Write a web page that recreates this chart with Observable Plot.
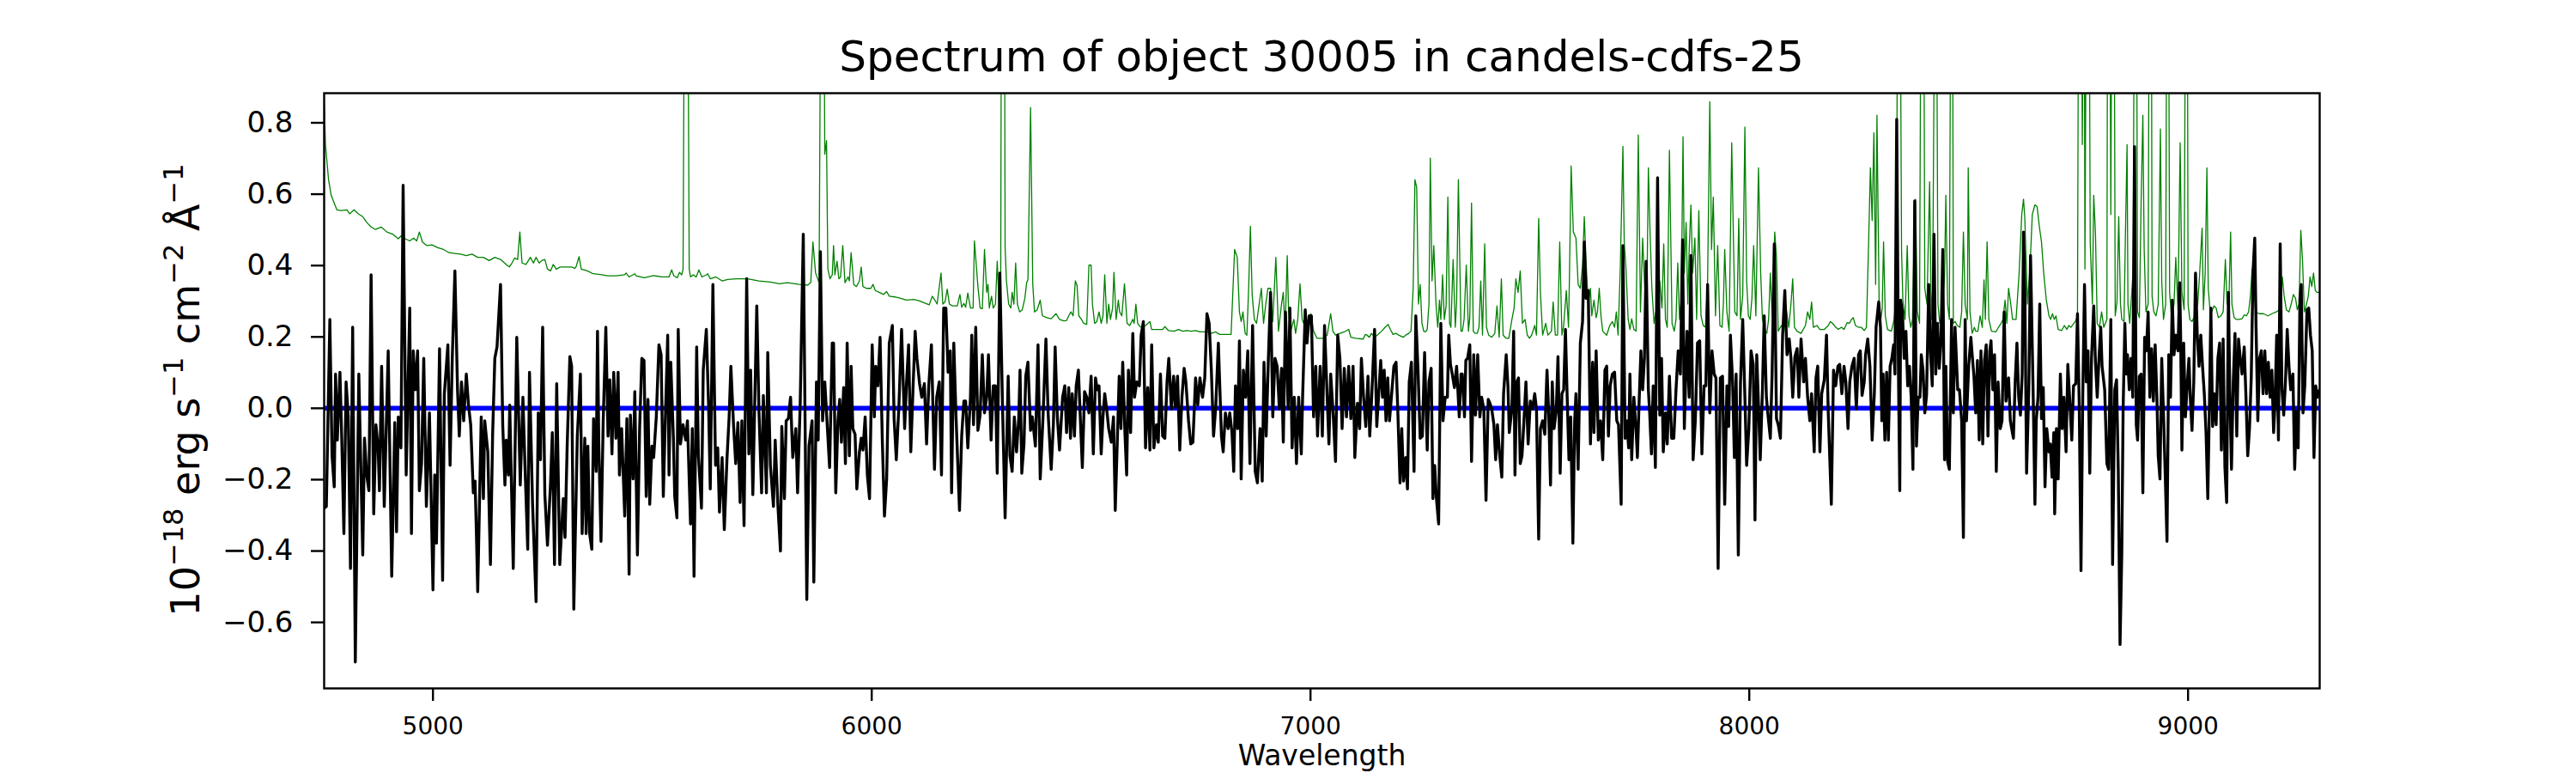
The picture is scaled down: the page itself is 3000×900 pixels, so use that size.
<!DOCTYPE html>
<html>
<head>
<meta charset="utf-8">
<script src="https://cdn.jsdelivr.net/npm/d3@7"></script>
<script src="https://cdn.jsdelivr.net/npm/@observablehq/plot@0.6"></script>
<style>
  html, body { margin: 0; padding: 0; background: #fff; }
  #title {
    font-family: "DejaVu Sans", sans-serif; font-size: 50px; line-height: 58px;
    height: 100px; box-sizing: border-box; padding-top: 37px;
    margin-left: 377px; width: 2324px; text-align: center; color: #000; white-space: nowrap;
  }
</style>
</head>
<body>
<div id="title">Spectrum of object 30005 in candels-cdfs-25</div>
<div id="chart"></div>
<script>
// ---- data (wavelength in Å, flux in 1e-18 erg/s/cm2/Å) ----
const xDomain = [4752, 9300];
const yDomain = [-0.785, 0.883];
const xTicks = [5000, 6000, 7000, 8000, 9000];
const yTicks = [-0.6, -0.4, -0.2, 0.0, 0.2, 0.4, 0.6, 0.8];
const zeroLevel = [0];

// object spectrum (black)
const spectrum = [
[4752,-0.280],[4757,-0.275],[4765,0.249],[4770,-0.133],[4775,-0.220],[4778,0.096],[4782,-0.089],[4788,0.101],[4792,-0.078],[4797,-0.351],
[4802,0.074],[4807,-0.024],[4812,-0.449],[4817,0.227],[4823,-0.711],[4831,0.096],[4840,-0.411],[4844,-0.084],[4849,-0.187],[4854,-0.231],
[4859,0.374],[4865,-0.296],[4870,-0.046],[4875,-0.111],[4878,-0.231],[4883,0.118],[4889,-0.275],[4898,0.161],[4906,-0.471],[4913,-0.040],
[4917,-0.346],[4921,-0.024],[4927,-0.111],[4932,0.625],[4939,-0.187],[4947,0.281],[4951,-0.351],[4955,0.161],[4960,0.052],[4965,0.161],
[4969,-0.231],[4974,-0.155],[4979,0.140],[4985,-0.275],[4992,-0.013],[5000,-0.509],[5004,-0.187],[5008,-0.378],[5015,0.167],[5022,-0.482],
[5026,0.041],[5034,0.178],[5039,-0.160],[5044,0.140],[5050,0.385],[5056,0.052],[5060,-0.078],[5065,0.074],[5070,-0.035],[5076,0.096],
[5081,0.009],[5086,-0.046],[5092,-0.237],[5096,-0.204],[5099,-0.351],[5102,-0.514],[5110,-0.024],[5115,-0.253],[5118,-0.035],[5125,-0.122],
[5131,-0.438],[5136,-0.073],[5141,0.140],[5146,0.172],[5154,0.347],[5159,-0.046],[5164,-0.215],[5167,-0.089],[5172,-0.187],[5175,0.009],
[5183,-0.449],[5191,0.199],[5199,-0.215],[5205,0.031],[5209,-0.133],[5216,-0.395],[5220,0.101],[5227,-0.269],[5235,-0.542],[5240,-0.013],
[5245,-0.144],[5250,0.227],[5255,-0.242],[5261,-0.384],[5268,-0.209],[5272,-0.068],[5277,-0.438],[5282,0.069],[5289,-0.438],[5297,-0.253],
[5301,-0.362],[5306,-0.100],[5312,0.145],[5316,0.118],[5321,-0.563],
[5329,-0.078],[5336,0.096],[5340,-0.351],[5346,-0.084],[5349,-0.351],[5353,-0.106],[5357,-0.351],[5362,-0.395],[5366,-0.029],[5372,-0.177],
[5375,0.216],[5378,-0.100],[5383,-0.373],[5388,-0.035],[5394,0.227],[5399,-0.078],[5403,0.080],[5408,-0.128],[5412,0.101],[5417,-0.084],
[5422,0.101],[5425,-0.187],[5430,-0.057],[5437,-0.302],[5442,-0.029],[5447,-0.465],[5450,-0.019],[5456,-0.198],[5460,0.047],[5466,-0.411],
[5471,-0.057],[5476,0.140],[5481,0.134],[5486,-0.247],[5490,0.025],[5494,-0.269],[5499,-0.106],[5503,-0.138],[5509,-0.024],[5515,0.178],
[5520,0.150],[5525,-0.247],[5529,-0.057],[5535,0.205],[5538,-0.187],[5542,0.129],[5548,-0.084],[5551,-0.247],[5556,-0.307],[5559,0.221],
[5564,-0.100],[5570,-0.046],[5576,-0.089],[5580,-0.035],[5587,-0.324],[5591,-0.057],[5595,-0.471],[5601,0.172],[5605,-0.133],[5612,-0.280],
[5616,0.107],[5623,0.221],[5628,0.014],[5632,-0.226],[5638,0.347],[5644,-0.160],[5649,-0.111],[5653,-0.291],[5659,-0.138],[5664,-0.340],
[5670,-0.144],[5675,-0.024],[5679,0.118],[5685,-0.046],[5690,-0.155],[5695,-0.040],[5700,-0.264],[5704,-0.035],[5709,-0.329],[5715,0.363],
[5720,-0.128],[5724,0.107],[5729,-0.242],[5738,0.287],[5743,-0.008],[5749,-0.237],[5753,0.036],[5760,-0.237],[5763,0.156],[5769,-0.160],
[5776,-0.275],[5780,-0.089],[5786,-0.269],[5792,-0.400],[5795,-0.051],[5801,-0.253],[5805,-0.035],[5810,-0.029],[5815,0.031],[5820,-0.138],
[5827,-0.057],[5831,-0.237],[5837,0.014],[5844,0.488],[5852,-0.536],[5857,-0.106],[5864,-0.035],[5868,-0.487],[5874,0.074],[5878,-0.089],
[5883,0.439],[5888,-0.035],[5893,0.074],[5898,-0.035],[5904,-0.166],[5910,0.183],
[5913,0.183],[5918,-0.237],[5923,-0.035],[5927,0.025],[5931,-0.095],[5936,0.058],[5940,-0.155],[5944,0.183],[5949,-0.133],[5953,0.118],
[5957,-0.057],[5962,-0.073],[5966,-0.226],[5972,-0.122],[5976,-0.084],[5980,-0.117],[5985,-0.024],[5990,-0.187],[5995,-0.253],[6001,0.178],
[6006,-0.024],[6009,0.118],[6014,0.063],[6019,0.199],[6024,-0.084],[6029,-0.302],[6034,-0.198],[6040,0.183],[6047,0.232],[6051,-0.029],
[6056,-0.144],[6062,0.009],[6068,0.221],[6075,-0.057],[6079,0.063],[6084,0.178],[6089,-0.122],[6094,0.052],[6099,0.216],[6103,0.140],
[6109,0.069],[6114,0.031],[6120,0.069],[6125,-0.100],[6130,0.063],[6136,0.178],[6143,-0.171],[6148,0.031],[6154,0.074],[6159,-0.187],
[6164,0.281],[6169,0.281],[6174,0.101],[6179,0.161],[6182,-0.237],[6187,0.183],[6192,-0.019],[6200,-0.286],[6205,-0.078],[6210,0.020],
[6214,0.020],[6219,-0.111],[6225,0.031],[6228,0.205],[6232,-0.046],[6237,0.227],[6242,-0.062],[6247,-0.019],[6252,0.150],[6257,-0.013],
[6262,0.031],[6266,0.150],[6272,-0.089],[6277,0.063],[6282,0.063],[6286,-0.182],[6292,0.379],[6298,0.009],[6304,-0.307],[6311,0.090],
[6315,-0.133],[6320,-0.177],[6325,-0.024],[6330,-0.122],[6335,-0.029],[6338,0.107],[6342,-0.182],[6347,-0.100],[6351,0.090],[6356,0.129],
[6362,-0.062],[6366,-0.024],[6373,-0.106],[6379,0.178],[6384,-0.198],[6390,-0.035],[6397,0.194],[6402,-0.013],[6409,-0.171],[6414,-0.046],
[6418,0.172],[6423,-0.024],[6428,-0.117],[6435,0.031],[6440,0.063],[6444,-0.068],[6449,0.058],[6453,-0.084],[6457,0.041],[6462,-0.078],
[6466,0.063],[6471,0.107],[6476,-0.046],[6480,-0.166],[6485,0.047],[6490,0.031],[6495,-0.013],
[6500,0.090],[6505,-0.128],[6510,0.085],[6514,0.052],[6518,0.063],[6523,-0.128],[6527,-0.024],[6531,0.041],[6536,-0.008],[6540,-0.057],
[6546,-0.095],[6551,-0.024],[6555,-0.286],[6560,-0.078],[6564,0.090],[6568,-0.057],[6572,0.129],[6577,-0.068],[6581,-0.187],[6585,0.107],
[6590,-0.068],[6595,0.210],[6599,0.031],[6604,0.074],[6610,0.063],[6614,0.205],[6619,0.243],[6624,-0.111],[6629,0.058],[6634,-0.117],
[6638,0.178],[6643,-0.111],[6649,-0.046],[6653,-0.095],[6658,0.096],[6663,-0.078],[6668,-0.084],[6673,0.074],[6677,0.140],[6683,-0.002],
[6688,0.090],[6692,0.003],[6697,0.090],[6702,-0.117],[6707,0.031],[6712,0.112],[6716,0.074],[6722,-0.035],[6727,-0.100],[6732,-0.095],
[6738,0.085],[6743,0.009],[6748,0.085],[6754,0.031],[6759,0.085],[6764,0.265],[6769,0.238],[6774,0.107],[6779,-0.078],[6784,0.003],
[6790,0.183],[6797,-0.078],[6801,-0.122],[6806,-0.013],[6812,-0.057],[6816,-0.013],[6821,-0.068],[6825,-0.177],[6829,0.063],[6834,-0.057],
[6838,0.189],[6842,-0.198],[6847,0.107],[6852,0.031],[6857,0.161],[6862,-0.155],[6868,0.232],[6874,-0.177],[6879,-0.209],[6885,-0.057],
[6890,-0.204],[6894,0.129],[6899,-0.078],[6904,0.140],[6909,0.325],[6914,-0.024],[6919,0.140],[6924,0.118],[6929,-0.002],[6934,0.112],
[6938,-0.095],[6943,0.270],[6949,-0.002],[6953,0.281],[6958,-0.111],[6963,0.031],[6968,-0.155],[6973,0.031],[6979,-0.128],[6982,0.031],
[6988,0.276],[6992,0.183],[6997,0.259],[7002,0.259],[7007,-0.024],[7012,0.118],[7016,-0.078],[7022,0.118],[7027,-0.078],[7032,0.232],
[7038,0.031],[7042,-0.100],[7046,0.096],[7052,-0.024],[7057,-0.149],[7062,0.205],[7067,0.140],[7072,-0.057],[7077,0.112],[7082,-0.024],
[7087,0.118],[7092,-0.029],[7097,0.118],[7101,-0.138],[7107,0.014],[7112,-0.057],[7116,0.140],[7121,0.031],[7126,-0.051],[7131,0.090],
[7135,-0.078],[7139,0.020],[7146,0.221],[7151,-0.051],[7155,0.031],[7160,0.134],[7164,0.031],[7168,0.107],[7172,-0.035],[7176,0.085],
[7180,-0.035],[7185,0.041],[7190,0.118],[7195,0.129],[7199,-0.008],[7204,-0.209],[7208,-0.057],[7212,-0.204],[7217,-0.138],[7221,-0.226],
[7225,0.074],[7230,0.129],[7236,-0.177],[7240,0.259],[7245,0.107],[7250,-0.084],[7255,-0.078],[7260,0.156],[7266,-0.117],[7270,0.074],
[7275,0.112],[7279,-0.253],[7283,-0.160],[7287,-0.253],[7292,-0.324],[7297,0.238],[7302,-0.035],[7307,0.031],[7312,0.031],[7315,0.205],
[7319,0.123],[7323,0.096],[7328,0.058],[7333,0.118],[7339,-0.024],[7343,0.096],[7346,0.096],[7351,-0.024],[7354,0.134],[7358,0.140],
[7363,0.178],[7367,-0.149],[7372,0.150],[7376,-0.019],[7381,0.150],[7386,-0.024],[7390,0.031],[7395,-0.002],[7400,-0.258],[7405,0.025],
[7409,0.014],[7413,-0.002],[7418,-0.046],[7422,-0.144],[7426,-0.046],[7431,-0.128],[7436,-0.193],[7440,0.041],[7446,0.150],[7450,0.063],
[7453,-0.068],[7459,-0.002],[7463,0.216],[7466,-0.187],[7470,0.074],[7474,0.085],[7478,-0.155],[7482,-0.133],[7486,-0.046],[7491,0.074],
[7496,-0.100],[7501,0.020],[7506,-0.002],[7511,0.041],[7515,-0.002],[7520,-0.367],[7524,-0.057],[7529,-0.035],[7534,-0.073],[7539,0.107],
[7543,-0.019],[7547,-0.215],[7551,0.074],[7555,-0.057],[7560,-0.008],[7564,0.145],[7569,-0.182],[7573,0.041],[7577,0.052],[7581,0.221],
[7585,0.031],[7589,-0.144],[7593,-0.024],[7598,-0.378],[7602,-0.035],[7605,0.041],[7610,-0.171],[7615,0.183],[7620,0.243],[7624,0.466],
[7628,0.308],[7633,0.330],[7638,-0.100],[7643,0.129],[7646,-0.068],[7651,0.161],[7656,-0.089],[7661,-0.035],[7666,-0.144],[7671,0.107],
[7675,0.118],[7679,-0.078],[7683,0.063],[7688,0.096],[7693,0.101],[7698,-0.035],[7702,-0.046],[7708,-0.269],[7712,0.456],[7717,-0.084],
[7721,-0.035],[7725,-0.111],[7728,0.096],[7732,-0.144],[7737,0.031],[7742,-0.062],[7745,-0.138],[7749,0.020],[7753,0.161],[7757,0.052],
[7761,0.140],[7765,0.412],[7770,0.052],[7773,-0.013],[7777,-0.128],[7781,0.063],[7786,-0.166],[7791,0.646],[7796,-0.019],[7800,0.140],
[7804,-0.122],[7809,-0.013],[7813,-0.100],[7818,0.090],[7823,-0.084],[7828,-0.084],[7833,0.052],[7838,0.161],[7843,0.096],[7848,0.472],
[7852,-0.057],[7858,0.216],[7863,0.031],[7867,0.428],[7872,-0.144],[7877,-0.035],[7882,0.183],[7887,0.189],[7892,-0.128],[7897,0.063],
[7901,0.063],[7905,0.347],[7910,-0.013],[7915,0.161],[7920,0.096],[7924,0.085],[7929,-0.449],[7934,0.085],[7939,0.090],[7944,-0.269],
[7949,0.063],[7953,-0.051],[7957,0.205],[7962,0.074],[7966,-0.138],[7970,0.096],[7975,-0.411],[7980,0.074],[7985,0.249],[7990,0.031],
[7994,-0.160],[7999,-0.057],[8004,0.161],[8009,0.123],[8013,-0.313],[8017,0.150],[8021,0.009],[8025,-0.144],[8030,0.052],[8034,0.259],
[8039,0.031],[8043,-0.024],[8048,-0.084],[8052,0.096],[8057,0.461],[8062,-0.029],[8066,-0.046],[8071,-0.084],[8076,0.205],[8081,0.330],
[8086,0.150],[8091,0.194],[8095,0.140],[8099,0.031],[8104,0.145],[8109,0.167],[8113,0.031],[8118,0.194],[8124,0.074],[8128,0.140],
[8133,0.031],[8138,-0.035],[8142,0.041],[8148,-0.122],[8152,0.085],[8156,0.118],[8161,-0.122],[8165,0.041],[8171,0.080],[8176,0.205],
[8180,-0.013],[8187,-0.269],[8192,0.107],[8197,0.063],[8202,0.118],[8206,0.123],[8211,0.041],[8216,0.118],[8220,0.074],[8225,-0.057],
[8229,0.074],[8234,0.118],[8239,0.140],[8244,-0.002],[8249,0.150],[8253,0.161],[8257,0.036],
[8262,0.074],[8265,0.150],[8270,0.194],[8275,0.118],[8280,-0.089],[8285,0.041],[8289,0.227],[8295,0.298],[8299,0.227],[8302,-0.035],
[8305,0.096],[8309,-0.089],[8313,0.101],[8317,-0.089],[8321,0.118],[8325,0.140],[8329,0.178],[8332,0.096],[8336,0.810],[8340,0.096],
[8343,-0.231],[8345,0.303],[8349,0.270],[8353,0.140],[8357,0.216],[8361,0.063],[8365,0.118],[8369,0.031],[8373,-0.171],[8377,0.581],
[8381,-0.106],[8385,0.031],[8389,0.031],[8392,0.150],[8396,0.107],[8400,-0.013],[8404,0.036],[8409,0.347],[8413,0.156],[8417,0.063],
[8421,0.488],[8425,0.096],[8429,0.238],[8433,0.112],[8437,0.194],[8441,0.445],[8445,-0.144],[8448,0.118],[8452,-0.149],[8456,-0.171],
[8461,0.249],[8465,-0.013],[8469,0.227],[8475,0.052],[8479,0.052],[8484,-0.035],[8488,-0.362],[8492,0.249],[8495,-0.035],[8500,0.118],
[8505,0.199],[8508,0.150],[8512,0.090],[8516,-0.013],[8520,0.134],[8524,-0.089],[8528,0.161],[8532,-0.100],[8536,0.134],[8540,0.178],
[8544,-0.078],[8548,0.161],[8551,0.189],[8555,0.052],[8559,0.150],[8563,-0.177],[8567,0.074],[8572,-0.057],[8576,-0.035],[8581,0.270],
[8585,0.020],[8591,0.085],[8595,-0.035],[8598,-0.057],[8602,-0.084],[8606,0.074],[8610,0.183],[8614,0.031],[8618,-0.019],[8622,0.096],
[8625,0.494],[8628,0.336],[8632,-0.182],[8637,0.052],[8641,0.428],[8647,0.041],[8651,-0.269],[8654,-0.035],[8658,0.031],[8662,0.292],
[8666,-0.029],[8670,0.058],[8674,-0.220],[8678,-0.057],[8683,-0.122],[8686,-0.100],[8690,-0.193],[8694,-0.068],[8696,-0.296],[8700,-0.057],
[8704,-0.198],[8709,0.096],[8713,-0.057],[8717,0.031],[8722,-0.122],[8726,0.123],[8730,0.031],[8735,-0.089],[8739,0.063],[8744,0.069],
[8748,0.265],[8752,0.009],[8756,-0.455],[8760,0.031],[8764,0.347],[8768,0.074],[8772,0.161],[8776,-0.182],[8780,0.140],[8785,0.287],
[8789,0.129],[8793,0.031],[8797,0.140],[8801,0.227],[8804,0.118],[8810,0.052],[8815,-0.155],[8819,-0.171],[8824,0.249],[8828,-0.438],
[8833,0.052],[8837,0.080],[8841,-0.177],[8845,-0.662],[8849,-0.405],
[8852,-0.002],[8856,0.238],[8859,0.096],[8862,0.150],[8866,0.052],[8870,0.140],[8874,0.031],[8878,0.733],[8882,-0.046],[8885,-0.089],
[8889,0.090],[8893,0.096],[8897,-0.237],[8901,0.199],[8905,0.161],[8909,0.270],[8913,0.031],[8917,0.167],[8921,0.020],[8925,0.178],
[8929,0.031],[8932,-0.133],[8936,-0.198],[8940,0.140],[8944,-0.013],[8948,-0.187],[8952,-0.373],[8956,0.150],[8960,0.031],[8964,0.303],
[8968,0.150],[8972,0.205],[8977,0.161],[8981,0.352],[8983,0.210],[8986,-0.117],[8990,0.183],[8994,-0.024],[8998,0.063],[9002,0.140],
[9005,0.031],[9009,-0.062],[9013,0.074],[9017,0.379],[9021,0.205],[9025,0.118],[9029,0.205],[9033,0.118],[9037,0.041],[9041,-0.068],
[9045,-0.253],[9049,0.031],[9052,0.281],[9056,-0.051],[9060,0.041],[9064,-0.046],[9068,0.140],[9072,0.183],[9076,-0.117],[9080,0.194],
[9084,-0.166],[9088,-0.264],[9092,0.325],[9095,0.058],[9099,-0.171],[9103,0.074],[9107,0.210],[9111,-0.078],[9115,0.194],[9119,0.140],
[9123,0.096],[9128,0.172],[9132,0.031],[9136,-0.133],[9140,-0.057],[9144,0.085],[9148,0.379],[9152,0.477],[9155,0.227],[9159,-0.035],
[9163,0.140],[9167,0.161],[9171,0.041],[9175,0.161],[9179,0.041],[9183,0.129],[9187,0.031],[9191,0.107],[9195,-0.068],[9198,0.009],
[9202,0.205],[9206,-0.089],[9210,0.461],[9214,0.052],[9218,-0.019],[9222,0.074],[9226,0.221],[9230,0.118],[9234,0.052],[9239,0.096],
[9243,-0.171],[9247,-0.008],[9251,-0.111],[9255,0.308],[9258,0.347],[9262,-0.013],[9266,0.063],[9271,0.276],[9275,0.281],[9279,0.205],
[9283,0.161],[9287,-0.138],[9291,0.063],[9295,0.031],[9300,0.052]
];

// noise / sky spectrum (green); 1.5 marks lines that run off the top of the axes
const noise = [
[4752,0.859],[4755,0.739],[4762,0.641],[4768,0.597],[4775,0.575],[4781,0.556],[4791,0.554],[4804,0.556],[4810,0.545],[4820,0.556],
[4830,0.545],[4840,0.537],[4849,0.521],[4859,0.508],[4869,0.501],[4882,0.508],[4895,0.494],[4908,0.488],[4921,0.475],[4927,0.483],
[4937,0.475],[4947,0.469],[4956,0.477],[4963,0.469],[4969,0.494],[4976,0.466],[4986,0.456],[4998,0.458],[5011,0.450],[5024,0.445],
[5037,0.436],[5050,0.434],[5063,0.432],[5076,0.428],[5089,0.432],[5102,0.423],[5115,0.423],[5128,0.414],[5141,0.423],[5154,0.417],
[5167,0.403],[5174,0.396],[5180,0.407],[5186,0.421],[5193,0.417],[5198,0.494],[5203,0.407],[5212,0.403],[5222,0.423],[5229,0.407],
[5235,0.423],[5242,0.407],[5248,0.414],[5255,0.417],[5261,0.390],[5268,0.385],[5274,0.403],[5281,0.390],[5290,0.396],[5303,0.396],
[5316,0.396],[5323,0.392],
[5326,0.396],[5333,0.425],[5338,0.390],[5352,0.385],[5365,0.377],[5385,0.374],[5398,0.371],[5417,0.371],[5437,0.374],[5440,0.379],
[5447,0.368],[5460,0.377],[5463,0.371],[5482,0.366],[5502,0.372],[5522,0.368],[5538,0.368],[5544,0.388],[5549,0.371],[5557,0.366],
[5562,0.381],[5567,0.374],[5570,0.390],[5574,1.5],[5580,1.5],[5584,0.390],[5587,0.368],[5593,0.374],[5600,0.368],[5606,0.388],
[5613,0.368],[5623,0.374],[5626,0.377],[5632,0.363],[5645,0.368],[5659,0.357],[5672,0.361],[5691,0.363],[5717,0.363],[5743,0.357],
[5769,0.354],[5789,0.349],[5808,0.352],[5835,0.347],[5854,0.345],[5861,0.352],[5866,0.466],[5872,0.379],[5880,0.352],[5885,1.5],
[5890,1.5],[5893,0.712],[5897,0.750],[5900,0.390],[5905,0.363],[5910,0.374],
[5913,0.456],[5916,0.374],[5921,0.412],[5925,0.363],[5929,0.368],[5934,0.456],[5939,0.352],[5946,0.368],[5949,0.357],[5953,0.436],
[5959,0.347],[5965,0.341],[5972,0.357],[5976,0.396],[5980,0.341],[5988,0.336],[5998,0.336],[6003,0.347],[6008,0.330],[6017,0.325],
[6027,0.319],[6034,0.327],[6040,0.314],[6053,0.312],[6066,0.308],[6079,0.303],[6096,0.305],[6109,0.301],[6122,0.294],[6131,0.290],
[6138,0.314],[6144,0.303],[6149,0.292],[6158,0.379],[6162,0.292],[6167,0.298],[6172,0.334],[6177,0.292],[6184,0.287],[6190,0.287],
[6195,0.287],[6201,0.319],[6205,0.283],[6210,0.294],[6214,0.283],[6219,0.323],[6225,0.281],[6231,0.281],[6234,0.469],[6239,0.390],
[6242,0.341],[6247,0.281],[6252,0.279],[6257,0.445],[6262,0.325],[6265,0.347],[6268,0.281],[6273,0.314],[6277,0.281],[6282,0.292],
[6286,0.412],[6290,0.292],[6294,0.379],[6296,1.5],[6302,1.5],[6304,0.450],[6307,0.357],[6312,0.292],[6317,0.281],[6320,0.325],
[6324,0.292],[6328,0.407],[6332,0.292],[6337,0.270],[6343,0.276],[6349,0.308],[6353,0.352],[6356,0.360],[6362,0.843],[6367,0.347],
[6371,0.270],[6377,0.276],[6384,0.303],[6389,0.259],[6399,0.254],[6409,0.251],[6415,0.259],[6420,0.265],[6428,0.249],[6438,0.245],
[6444,0.246],[6449,0.259],[6454,0.270],[6459,0.259],[6464,0.357],[6468,0.344],[6472,0.259],[6478,0.249],[6483,0.238],[6490,0.235],
[6495,0.401],
[6500,0.401],[6503,0.292],[6508,0.238],[6513,0.243],[6518,0.270],[6523,0.238],[6527,0.259],[6531,0.374],[6536,0.238],[6540,0.292],
[6544,0.249],[6549,0.281],[6552,0.381],[6557,0.249],[6562,0.303],[6565,0.270],[6570,0.259],[6576,0.349],[6582,0.238],[6588,0.232],
[6595,0.249],[6598,0.238],[6602,0.292],[6606,0.238],[6611,0.229],[6617,0.227],[6624,0.232],[6634,0.243],[6638,0.221],[6650,0.221],
[6663,0.221],[6668,0.229],[6676,0.218],[6689,0.216],[6699,0.221],[6709,0.216],[6718,0.218],[6728,0.216],[6738,0.218],[6748,0.214],
[6758,0.214],[6767,0.214],[6774,0.210],[6784,0.214],[6793,0.207],[6806,0.207],[6819,0.207],[6827,0.445],[6833,0.423],[6838,0.270],
[6842,0.243],[6846,0.270],[6851,0.210],[6855,0.205],[6859,0.336],[6863,0.510],[6867,0.319],[6872,0.249],[6877,0.238],[6883,0.292],
[6888,0.336],[6893,0.238],[6898,0.292],[6903,0.336],[6909,0.336],[6914,0.243],[6921,0.423],[6927,0.216],[6934,0.292],[6938,0.325],
[6942,0.216],[6947,0.428],[6950,0.270],[6955,0.216],[6962,0.249],[6966,0.210],[6971,0.249],[6976,0.349],[6981,0.249],[6988,0.227],
[6994,0.238],[7001,0.265],[7007,0.216],[7015,0.196],[7028,0.196],[7038,0.205],[7046,0.265],[7051,0.216],[7057,0.205],[7067,0.210],
[7077,0.214],
[7087,0.221],[7092,0.199],[7103,0.196],[7120,0.194],[7125,0.207],[7129,0.205],[7134,0.199],[7139,0.210],[7146,0.199],[7152,0.205],
[7162,0.216],[7170,0.227],[7177,0.235],[7182,0.221],[7188,0.207],[7195,0.210],[7201,0.205],[7211,0.199],[7217,0.205],[7224,0.210],
[7229,0.216],[7234,0.336],[7238,0.641],[7242,0.619],[7246,0.292],[7250,0.347],[7254,0.238],[7258,0.216],[7262,0.214],[7266,0.221],
[7270,0.292],[7273,0.701],[7277,0.357],[7281,0.456],[7286,0.292],[7290,0.227],[7294,0.303],[7297,0.249],[7301,0.374],[7305,0.249],
[7309,0.287],[7313,0.592],[7317,0.238],[7320,0.227],[7325,0.417],[7330,0.227],[7333,0.298],[7337,0.641],[7343,0.216],[7346,0.216],
[7350,0.249],[7355,0.401],[7360,0.216],[7363,0.254],[7367,0.575],[7371,0.216],[7375,0.210],[7380,0.210],[7384,0.227],[7388,0.357],
[7392,0.205],[7397,0.461],[7401,0.227],[7406,0.205],[7413,0.199],[7420,0.210],[7425,0.287],[7430,0.199],[7435,0.363],[7439,0.205],
[7446,0.196],[7452,0.196],[7459,0.249],[7464,0.281],[7468,0.363],[7473,0.325],[7478,0.385],[7483,0.238],[7489,0.249],[7494,0.205],
[7499,0.196],[7504,0.205],[7511,0.232],[7515,0.205],[7520,0.532],[7524,0.325],[7529,0.205],[7536,0.238],[7541,0.205],[7549,0.216],
[7553,0.298],[7558,0.205],[7563,0.205],[7568,0.466],[7573,0.205],[7577,0.232],[7583,0.330],[7588,0.227],[7590,0.357],[7594,0.679],
[7599,0.494],[7605,0.477],[7610,0.347],[7615,0.336],[7620,0.401],[7624,0.537],[7628,0.412],[7633,0.292],[7638,0.336],[7641,0.259],
[7646,0.303],[7651,0.254],[7654,0.270],[7658,0.336],[7662,0.259],[7666,0.216],
[7675,0.205],[7682,0.232],[7688,0.243],[7693,0.227],[7697,0.270],[7701,0.205],[7706,0.390],[7712,0.734],[7715,0.466],[7719,0.390],
[7724,0.249],[7728,0.221],[7732,0.251],[7737,0.221],[7742,0.216],[7747,0.766],[7752,0.270],[7757,0.477],[7761,0.357],[7766,0.249],
[7770,0.674],[7774,0.488],[7778,0.336],[7783,0.238],[7787,0.270],[7792,0.227],[7796,0.357],[7801,0.281],[7805,0.461],[7809,0.249],
[7813,0.227],[7818,0.723],[7824,0.238],[7829,0.216],[7833,0.249],[7837,0.407],[7841,0.249],[7845,0.308],[7849,0.761],[7852,0.379],
[7856,0.521],[7860,0.292],[7863,0.445],[7867,0.570],[7871,0.379],[7876,0.477],[7880,0.249],[7885,0.554],[7890,0.259],[7895,0.232],
[7900,0.227],[7905,0.357],[7910,0.859],[7914,0.445],[7918,0.592],[7923,0.259],[7928,0.456],[7933,0.232],[7938,0.227],[7941,0.292],
[7944,0.445],[7949,0.270],[7954,0.216],[7960,0.744],[7964,0.466],[7967,0.270],[7972,0.259],[7976,0.532],[7980,0.249],[7985,0.314],
[7990,0.788],[7994,0.357],[7998,0.259],[8002,0.249],[8006,0.308],[8010,0.456],[8015,0.259],[8021,0.674],[8026,0.379],[8030,0.249],
[8035,0.221],[8040,0.210],[8044,0.249],[8048,0.379],[8052,0.259],[8058,0.494],[8062,0.423],[8066,0.216],[8073,0.232],[8079,0.216],
[8084,0.281],[8090,0.227],[8095,0.292],[8099,0.363],[8103,0.227],[8109,0.216],[8118,0.210],[8128,0.232],[8133,0.270],[8138,0.249],
[8142,0.298],[8146,0.227],[8154,0.232],[8161,0.221],[8171,0.221],[8180,0.232],[8185,0.243],[8190,0.238],[8197,0.227],[8203,0.221],
[8210,0.227],[8216,0.221],[8223,0.240],[8228,0.238],[8233,0.249],[8237,0.254],[8242,0.232],[8249,0.227],[8255,0.227],
[8262,0.218],[8267,0.227],[8272,0.466],[8276,0.674],[8280,0.526],[8284,0.772],[8288,0.347],[8291,0.821],[8296,0.292],[8300,0.249],
[8303,0.281],[8306,0.466],[8310,0.259],[8315,0.221],[8324,0.216],[8330,0.249],[8335,0.314],[8339,1.5],[8343,1.5],[8347,0.445],
[8350,0.303],[8355,0.249],[8360,0.456],[8364,0.259],[8368,0.227],[8372,0.249],[8376,0.488],[8379,0.586],[8383,0.270],[8388,0.238],
[8392,1.5],[8397,1.5],[8400,0.336],[8405,0.292],[8411,0.635],[8415,0.249],[8418,0.336],[8424,1.5],[8426,1.5],[8430,0.292],
[8434,0.238],[8439,0.259],[8445,0.368],[8448,0.597],[8452,0.292],[8456,0.249],[8460,1.5],[8463,1.5],[8465,0.238],[8469,0.243],
[8474,0.232],[8480,0.227],[8484,0.270],[8488,0.494],[8492,0.292],[8497,0.249],[8499,0.674],[8503,0.270],[8508,0.210],[8513,0.227],
[8516,0.216],[8521,0.216],[8526,0.259],[8531,0.227],[8535,0.360],[8538,0.249],[8542,0.466],[8546,0.249],[8552,0.216],[8562,0.214],
[8568,0.227],[8574,0.238],[8578,0.249],[8583,0.303],[8587,0.238],[8591,0.336],[8596,0.292],[8600,0.249],[8608,0.249],[8615,0.379],
[8621,0.543],[8625,0.586],[8628,0.532],[8634,0.292],[8640,0.401],[8645,0.543],[8651,0.570],[8656,0.565],[8661,0.510],[8666,0.466],
[8671,0.379],[8677,0.303],[8683,0.259],[8687,0.249],[8691,0.265],[8695,0.249],[8699,0.259],[8704,0.221],[8712,0.218],[8718,0.232],
[8724,0.221],[8728,0.232],[8733,0.227],[8738,0.235],[8743,0.243],[8748,0.259],[8751,1.5],[8756,1.5],[8759,0.739],[8763,1.5],
[8765,0.390],[8769,1.5],[8774,1.5],[8777,0.466],[8782,0.292],[8785,0.597],[8789,0.488],[8793,0.238],[8798,0.227],[8803,0.270],
[8808,0.227],[8815,0.249],[8817,1.5],[8821,1.5],[8824,0.543],[8827,1.5],[8831,1.5],[8834,0.259],[8838,0.298],[8842,0.537],
[8846,0.292],
[8849,0.249],[8854,0.243],[8857,0.466],[8861,0.739],[8863,0.292],[8867,0.238],[8870,0.292],[8875,0.390],[8878,1.5],[8882,1.5],
[8885,0.270],[8889,0.254],[8893,0.575],[8897,0.821],[8900,0.445],[8904,0.270],[8909,0.292],[8912,1.5],[8916,1.5],[8918,0.314],
[8922,0.270],[8927,0.259],[8932,0.292],[8937,0.783],[8940,0.357],[8944,0.249],[8949,0.292],[8952,1.5],[8955,1.5],[8958,0.325],
[8962,0.259],[8968,0.292],[8972,0.423],[8977,0.276],[8982,0.744],[8986,0.325],[8991,0.276],[8995,1.5],[8998,1.5],[9000,0.292],
[9004,0.249],[9009,0.243],[9015,0.259],[9022,0.292],[9026,0.368],[9032,0.505],[9035,0.276],[9039,0.379],[9043,0.674],[9046,0.336],
[9050,0.276],[9054,0.270],[9059,0.287],[9064,0.281],[9069,0.254],[9075,0.259],[9080,0.270],[9085,0.417],[9089,0.292],[9093,0.292],
[9097,0.494],[9100,0.292],[9105,0.254],[9110,0.249],[9116,0.249],[9123,0.251],[9128,0.262],[9133,0.259],[9138,0.270],[9142,0.314],
[9146,0.390],[9150,0.336],[9154,0.270],[9162,0.265],[9172,0.265],[9182,0.259],[9191,0.265],[9201,0.270],[9208,0.276],[9212,0.314],
[9215,0.368],[9219,0.314],[9224,0.276],[9230,0.270],[9235,0.292],[9240,0.319],[9245,0.308],[9249,0.276],[9253,0.292],[9257,0.499],
[9261,0.412],[9265,0.270],[9270,0.292],[9274,0.314],[9278,0.368],[9282,0.341],[9286,0.379],[9290,0.330],[9294,0.325],[9300,0.325]
];

const minus = s => s.replace("-", "\u2212");

const chart = Plot.plot({
  width: 3000,
  height: 800,
  marginTop: 8,
  marginBottom: 99,
  marginLeft: 377,
  marginRight: 299,
  style: { fontFamily: "DejaVu Sans, sans-serif", background: "white", overflow: "visible", color: "black" },
  x: { domain: xDomain },
  y: { domain: yDomain },
  marks: [
    Plot.line(noise, { x: d => d[0], y: d => d[1], stroke: "#008000", strokeWidth: 1.3, clip: true }),
    Plot.ruleY(zeroLevel, { stroke: "#0000ff", strokeWidth: 5.5 }),
    Plot.line(spectrum, { x: d => d[0], y: d => d[1], stroke: "black", strokeWidth: 3.4, clip: true }),
    Plot.frame({ stroke: "black", strokeWidth: 2.4 }),
    Plot.axisX({ ticks: xTicks, tickFormat: d3.format("d"), tickSize: 15, tickPadding: 19, fontSize: 28, label: null, strokeWidth: 2.4 }),
    Plot.axisY({ ticks: yTicks, tickFormat: d => minus(d.toFixed(1)), tickSize: 15, tickPadding: 21, fontSize: 34, label: null, strokeWidth: 2.4 }),
    Plot.text(["Wavelength"], { text: d => d, frameAnchor: "bottom", lineAnchor: "middle", dy: 79, fontSize: 33 })
  ]
});

document.getElementById("chart").appendChild(chart);

// y-axis label with superscripts (mathtext-like)
const svg = d3.select(chart);
const yl = svg.append("text")
  .attr("transform", "translate(232,354) rotate(-90)")
  .attr("text-anchor", "middle")
  .attr("font-family", "DejaVu Sans, sans-serif")
  .attr("font-size", 46)
  .attr("fill", "black");
const parts = [["10", false], ["\u221218", true], [" erg s", false], ["\u22121", true], [" cm", false], ["\u22122", true], [" \u00c5", false], ["\u22121", true]];
let raised = false;
for (const [t, sup] of parts) {
  const ts = yl.append("tspan").text(t);
  if (sup && !raised) { ts.attr("font-size", 32).attr("dy", -19); raised = true; }
  else if (!sup && raised) { ts.attr("dy", 19); raised = false; }
}
</script>
</body>
</html>
